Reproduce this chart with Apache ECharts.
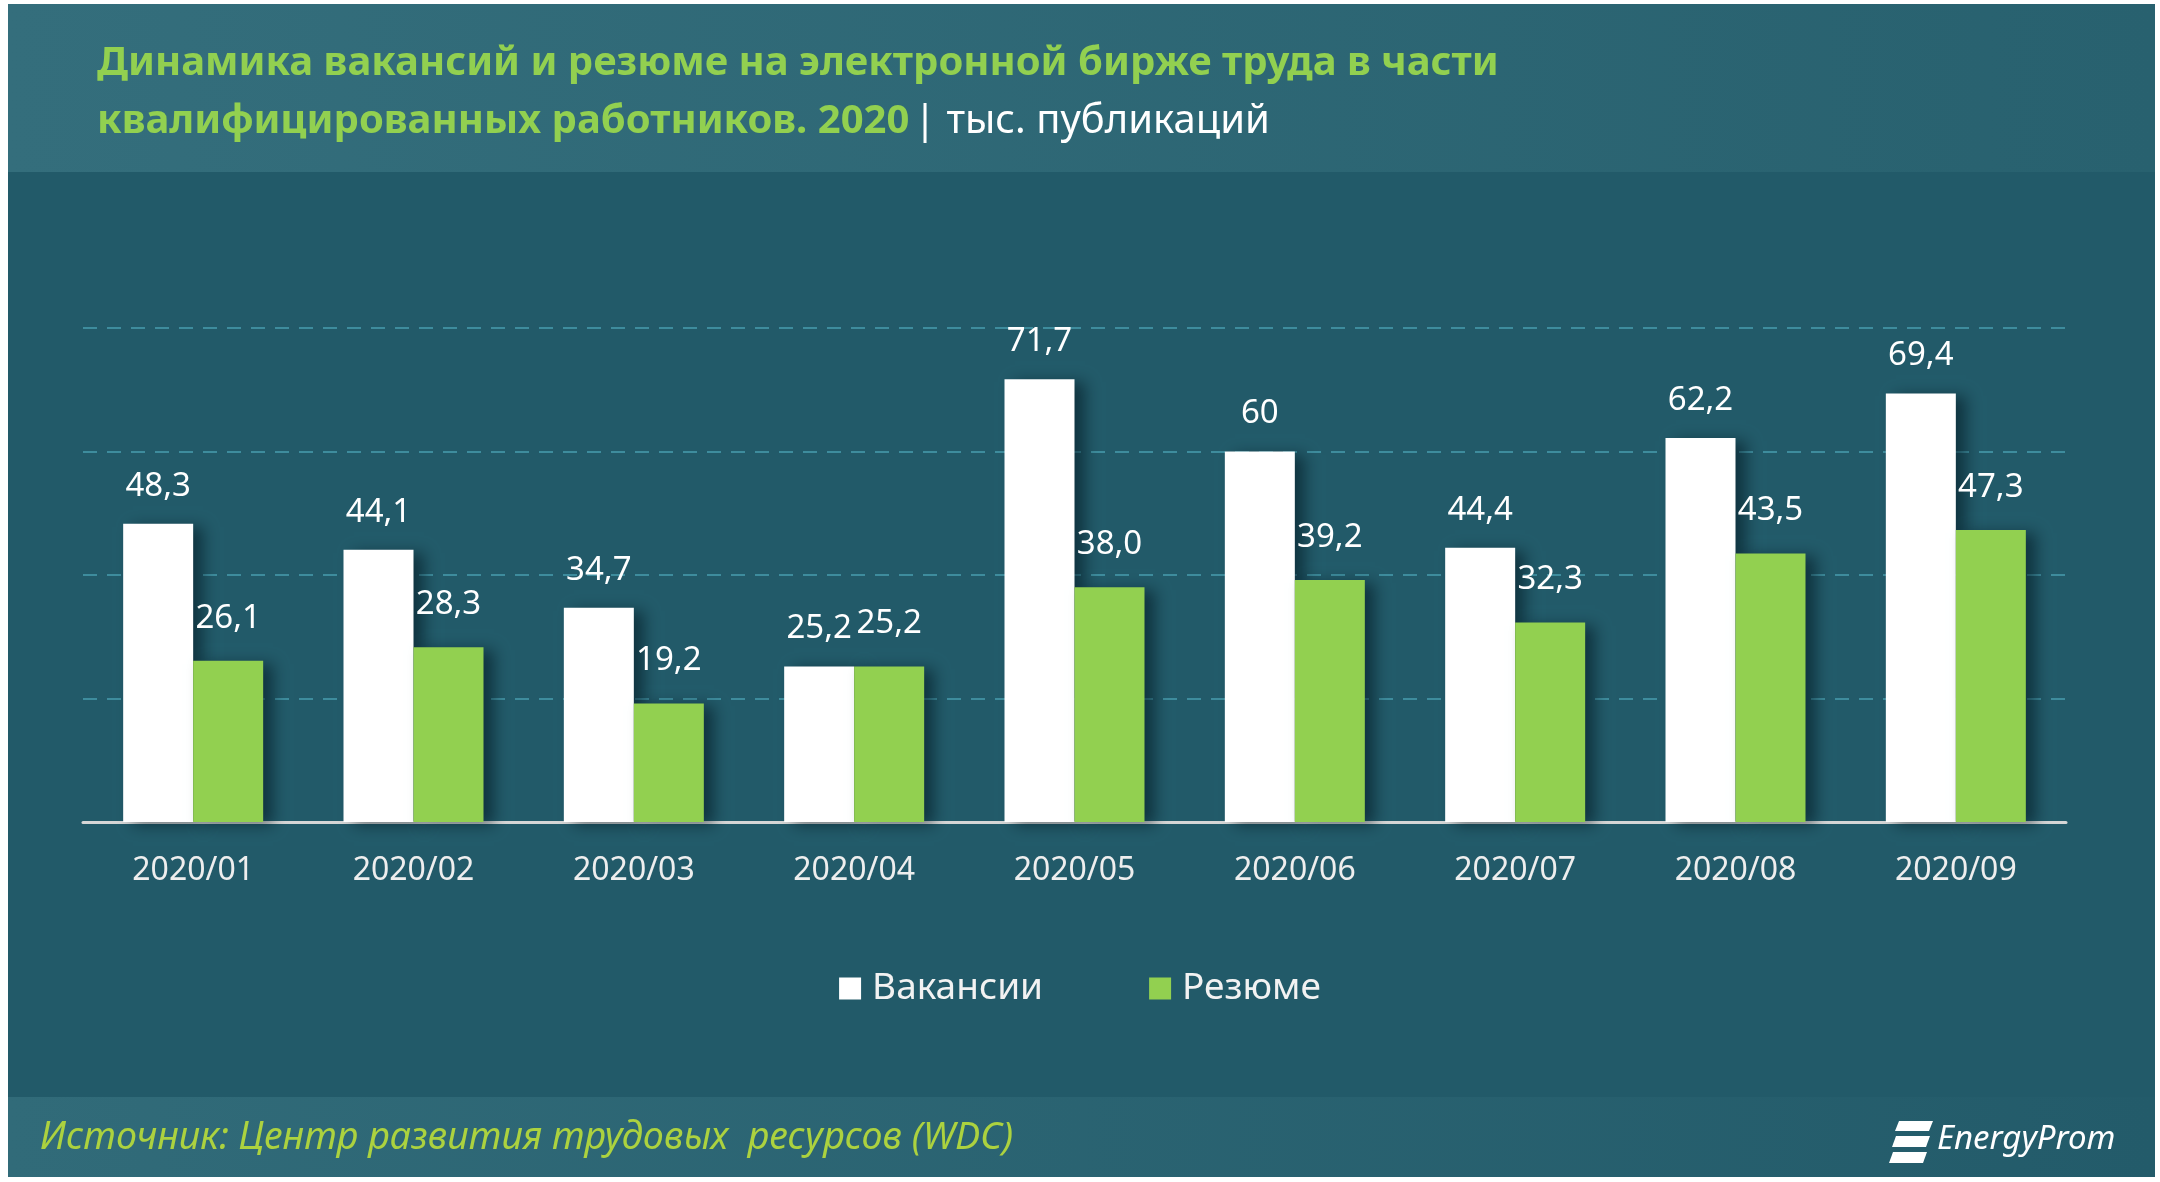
<!DOCTYPE html>
<html>
<head>
<meta charset="utf-8">
<script src="https://cdn.jsdelivr.net/npm/echarts@6/dist/echarts.min.js"></script>
<style>
html,body{margin:0;padding:0;background:#ffffff;}
#chart{width:2160px;height:1182px;}
</style>
</head>
<body>
<div id="chart"></div>
<script>
const categories = ['2020/01','2020/02','2020/03','2020/04','2020/05','2020/06','2020/07','2020/08','2020/09'];
const vacancies = [48.3, 44.1, 34.7, 25.2, 71.7, 60, 44.4, 62.2, 69.4];
const resumes = [26.1, 28.3, 19.2, 25.2, 38.0, 39.2, 32.3, 43.5, 47.3];
const seriesNames = ['Вакансии', 'Резюме'];
const titleLine1 = 'Динамика вакансий и резюме на электронной бирже труда в части';
const titleLine2a = 'квалифицированных работников. 2020';
const titleLine2b = '| тыс. публикаций';
const sourceText = 'Источник: Центр развития трудовых  ресурсов (WDC)';
const logoText = 'EnergyProm';

const FONT = '"Noto Sans", "Open Sans", sans-serif';
const chart = echarts.init(document.getElementById('chart'));

const shadow = {shadowColor:'rgba(0,20,30,0.55)', shadowBlur:14, shadowOffsetX:10, shadowOffsetY:3};

const option = {
  backgroundColor: '#ffffff',
  animation: false,
  textStyle: {fontFamily: FONT},
  graphic: [
    {type:'rect', z:-10, shape:{x:8,y:4,width:2147,height:168},
      style:{fill:new echarts.graphic.LinearGradient(0,0,1,0,[{offset:0,color:'#346e7c'},{offset:1,color:'#28616f'}])}},
    {type:'rect', z:-10, shape:{x:8,y:172,width:2147,height:925}, style:{fill:'#225a69'}},
    {type:'rect', z:-10, shape:{x:8,y:1097,width:2147,height:80},
      style:{fill:new echarts.graphic.LinearGradient(0,0,1,0,[{offset:0,color:'#316b79'},{offset:1,color:'#235b6a'}])}},
    {type:'text', left:40, top:1119, style:{text:sourceText, fill:'#acd23f', font:'italic 37.7px ' + FONT}},
    {type:'polygon', shape:{points:[[1899,1121],[1933,1121],[1929,1131],[1895,1131]]}, style:{fill:'#ffffff'}},
    {type:'polygon', shape:{points:[[1896,1136],[1930,1136],[1926,1147],[1892,1147]]}, style:{fill:'#ffffff'}},
    {type:'polygon', shape:{points:[[1893,1152],[1927,1152],[1923,1163],[1889,1163]]}, style:{fill:'#ffffff'}},
    {type:'text', left:1937, top:1123, style:{text:logoText, fill:'#ffffff', font:'italic 33px ' + FONT}}
  ],
  title: {
    left: 92, top: 30,
    text: '{g|' + titleLine1 + '}\n{g|' + titleLine2a + '} {w|' + titleLine2b + '}',
    textStyle: {
      rich: {
        g: {color:'#92d050', fontSize:40, fontWeight:'bold', fontFamily:FONT, lineHeight:58},
        w: {color:'#ffffff', fontSize:40, fontWeight:'normal', fontFamily:FONT, lineHeight:58}
      }
    }
  },
  legend: {
    data: seriesNames,
    left: 'center', top: 965,
    itemWidth: 22, itemHeight: 22, itemGap: 106,
    icon: 'rect',
    textStyle: {color:'#f2f2f2', fontSize:37, fontFamily:FONT, padding:[0,0,0,6]}
  },
  grid: {left:83, right:94, top:328, bottom:360, containLabel:false},
  xAxis: {
    type: 'category', data: categories,
    axisLine: {show:true, lineStyle:{color:'#d6d6d6', width:3}},
    axisTick: {show:false},
    axisLabel: {color:'#eeeeee', fontSize:32, margin:33, fontFamily:FONT}
  },
  yAxis: {
    type: 'value', min: 0, max: 80, interval: 20,
    axisLine: {show:false}, axisTick: {show:false}, axisLabel: {show:false},
    splitLine: {show:true, lineStyle:{color:'#3e8c9d', width:2, type:[14,10]}}
  },
  series: [
    {
      name: seriesNames[0], type: 'bar', data: vacancies,
      barWidth: 70, barGap: '0%',
      itemStyle: Object.assign({color:'#ffffff'}, shadow),
      label: {show:true, position:'top', distance:21, color:'#ffffff', fontSize:33, fontFamily:FONT,
        formatter: p => String(p.value).replace('.', ',')}
    },
    {
      name: seriesNames[1], type: 'bar', data: resumes,
      barWidth: 70, barGap: '0%',
      itemStyle: Object.assign({color:'#92d050'}, shadow),
      label: {show:true, position:'top', distance:26, color:'#ffffff', fontSize:33, fontFamily:FONT,
        formatter: p => p.value.toFixed(1).replace('.', ',')}
    }
  ]
};
chart.setOption(option);
</script>
</body>
</html>
